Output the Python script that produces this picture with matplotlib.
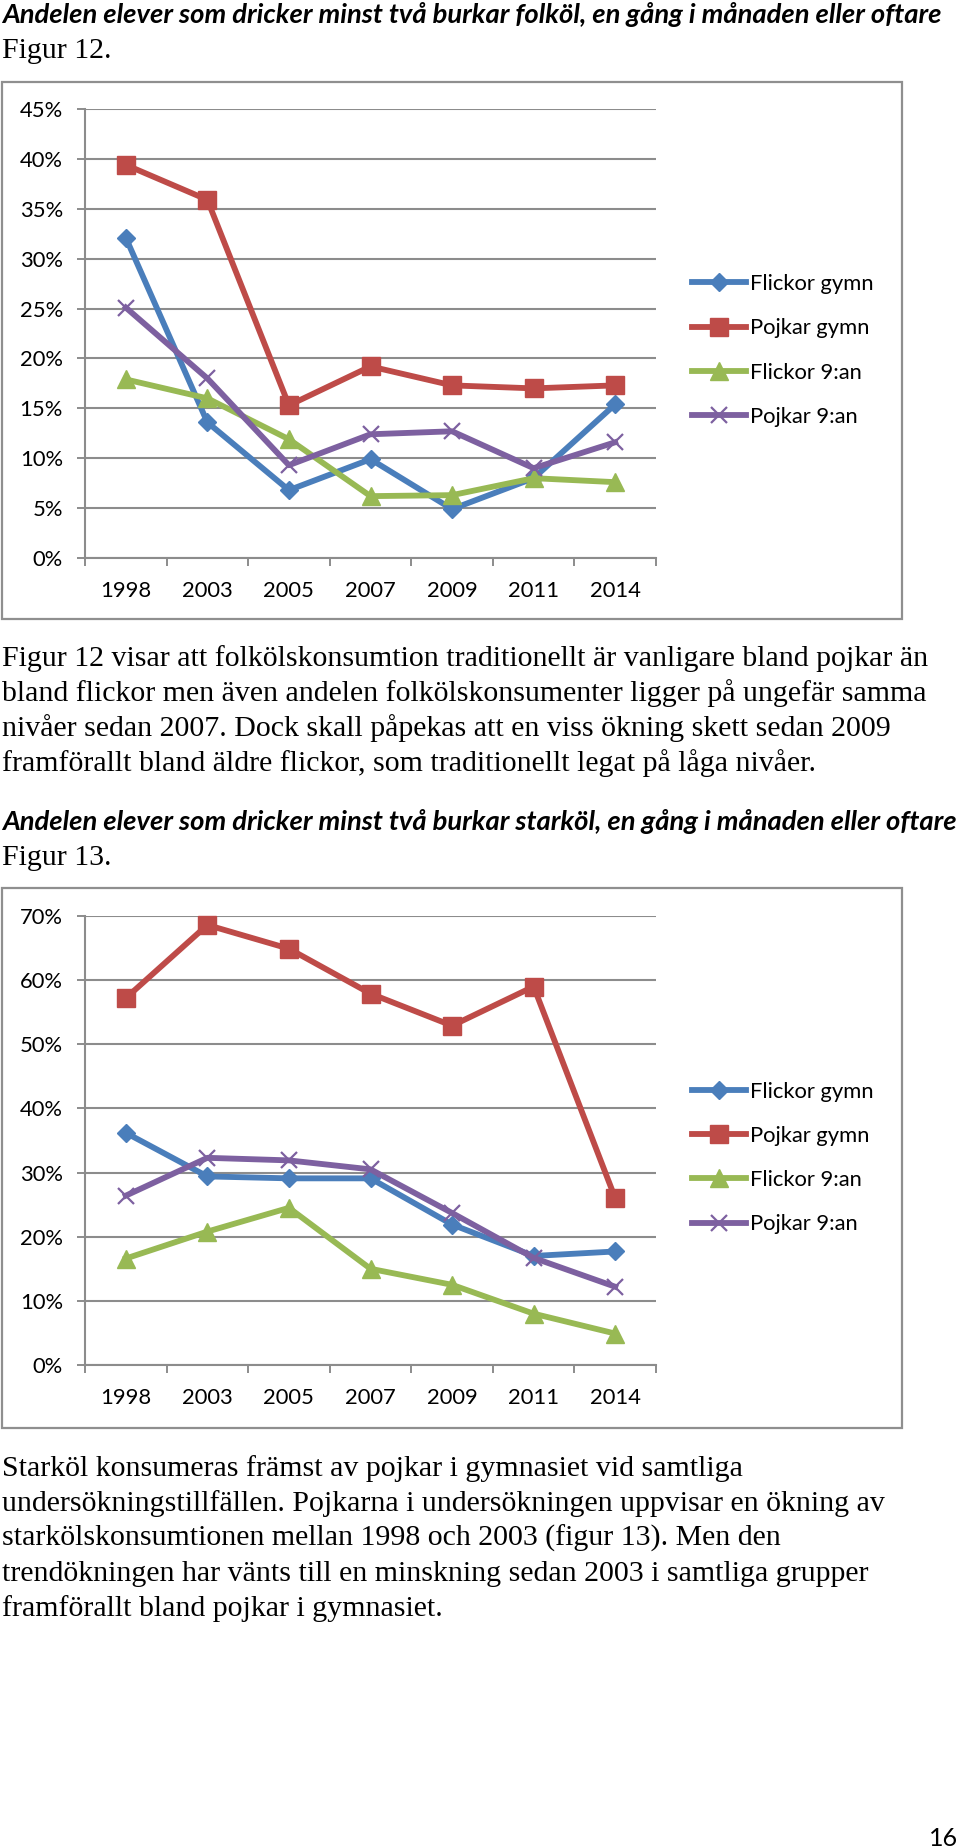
import matplotlib
matplotlib.use('Agg')
import matplotlib.pyplot as plt
from matplotlib.patches import Rectangle
import numpy as np

W, H = 960, 1848
DPI = 100

years = ['1998', '2003', '2005', '2007', '2009', '2011', '2014']
series_names = ['Flickor gymn', 'Pojkar gymn', 'Flickor 9:an', 'Pojkar 9:an']

# Figur 12 - folköl (%)
folk_flickor_gymn = [32.1, 13.6, 6.8, 9.9, 4.9, 8.0, 15.4]
folk_pojkar_gymn = [39.4, 35.9, 15.3, 19.2, 17.3, 17.0, 17.3]
folk_flickor_9 = [17.9, 16.0, 11.9, 6.2, 6.3, 8.0, 7.6]
folk_pojkar_9 = [25.1, 18.0, 9.3, 12.4, 12.7, 9.0, 11.6]

# Figur 13 - starköl (%)
stark_flickor_gymn = [36.2, 29.4, 29.1, 29.1, 21.9, 17.0, 17.7]
stark_pojkar_gymn = [57.2, 68.6, 64.9, 57.9, 52.9, 59.0, 26.0]
stark_flickor_9 = [16.6, 20.8, 24.5, 15.0, 12.5, 8.0, 4.9]
stark_pojkar_9 = [26.4, 32.3, 31.9, 30.5, 23.7, 16.7, 12.2]

colors = ['#4A7EBB', '#BE4B48', '#98B954', '#7D60A0']
markers = ['D', 's', '^', 'x']
msizes = [9.5, 12.5, 13, 12]

heading1 = 'Andelen elever som dricker minst två burkar folköl, en gång i månaden eller oftare'
heading2 = 'Andelen elever som dricker minst två burkar starköl, en gång i månaden eller oftare'
para1 = ['Figur 12 visar att folkölskonsumtion traditionellt är vanligare bland pojkar än',
         'bland flickor men även andelen folkölskonsumenter ligger på ungefär samma',
         'nivåer sedan 2007. Dock skall påpekas att en viss ökning skett sedan 2009',
         'framförallt bland äldre flickor, som traditionellt legat på låga nivåer.']
para2 = ['Starköl konsumeras främst av pojkar i gymnasiet vid samtliga',
         'undersökningstillfällen. Pojkarna i undersökningen uppvisar en ökning av',
         'starkölskonsumtionen mellan 1998 och 2003 (figur 13). Men den',
         'trendökningen har vänts till en minskning sedan 2003 i samtliga grupper',
         'framförallt bland pojkar i gymnasiet.']

fig = plt.figure(figsize=(W / DPI, H / DPI), dpi=DPI)
renderer = fig.canvas.get_renderer()

def fx(x):
    return x / W

def fy(y):
    return 1 - y / H

def px2pt(p):
    return p * 72.0 / DPI

SERIF = ['Liberation Serif', 'DejaVu Serif']
SANS = ['Lato', 'DejaVu Sans']

def put_text(x, y, s, size, family, weight='normal', style='normal', ha='left'):
    return fig.text(fx(x), fy(y), s, fontsize=size, family=family, weight=weight,
                    style=style, va='baseline', ha=ha, color='black')

def fit_size(s, width, family, weight='normal', style='normal'):
    t = fig.text(0, 0, s, fontsize=20, family=family, weight=weight, style=style)
    w = t.get_window_extent(renderer).width
    t.remove()
    return 20 * width / w

# headings
hsize = fit_size(heading1, 938, SANS, 'bold', 'italic')
put_text(2, 23, heading1, hsize, SANS, 'bold', 'italic')
put_text(2, 830, heading2, hsize, SANS, 'bold', 'italic')

bsize = fit_size(para1[0], 928, SERIF)
put_text(2, 58, 'Figur 12.', bsize, SERIF)
put_text(2, 865, 'Figur 13.', bsize, SERIF)
for i, line in enumerate(para1):
    put_text(2, 666 + 35 * i, line, bsize, SERIF)
for i, line in enumerate(para2):
    put_text(2, 1476 + 35 * i, line, bsize, SERIF)

put_text(958, 1846, '16', px2pt(25), SANS, ha='right')

GRID = '#8C8C8C'
tick_fs = px2pt(22)

def make_chart(box, ax_px, ymax, data, legend_cy):
    bx0, by0, bx1, by1 = box
    fig.patches.append(Rectangle((fx(bx0), fy(by1)), (bx1 - bx0) / W, (by1 - by0) / H,
                                 transform=fig.transFigure, fill=False,
                                 edgecolor='#8F8F8F', linewidth=1.6, zorder=0))
    l, r, t, b = ax_px
    ax = fig.add_axes([fx(l), fy(b), (r - l) / W, (b - t) / H])
    ax.set_facecolor('none')
    x = np.arange(len(years))
    handles = []
    for vals, name, c, m, ms in zip(data, series_names, colors, markers, msizes):
        mew = 1.6 if m == 'x' else 1.0
        h, = ax.plot(x, vals, color=c, linewidth=4.2, marker=m, markersize=ms,
                     markeredgewidth=mew, markeredgecolor=c, markerfacecolor=c,
                     label=name, clip_on=False, zorder=3, solid_joinstyle='round')
        handles.append(h)
    ax.set_xlim(-0.5, len(years) - 0.5)
    ax.set_ylim(0, ymax)
    yt = np.arange(0, ymax + 0.1, 5 if ymax == 45 else 10)
    ax.set_yticks(yt)
    ax.set_yticklabels([f'{int(v)}%' for v in yt], family=SANS, fontsize=tick_fs)
    ax.set_xticks(np.arange(-0.5, len(years), 1))
    ax.set_xticklabels([])
    ax.set_xticks(x, minor=True)
    ax.set_xticklabels(years, minor=True, family=SANS, fontsize=tick_fs)
    ax.tick_params(axis='x', which='major', length=px2pt(8), width=1.4, color=GRID,
                   direction='out')
    ax.tick_params(axis='x', which='minor', length=0, pad=px2pt(23))
    ax.tick_params(axis='y', length=px2pt(8), width=1.4, color=GRID, pad=px2pt(14))
    ax.yaxis.grid(True, color=GRID, linewidth=1.5)
    ax.set_axisbelow(True)
    for s in ['top', 'right']:
        ax.spines[s].set_visible(False)
    for s in ['left', 'bottom']:
        ax.spines[s].set_color(GRID)
        ax.spines[s].set_linewidth(1.5)
    ax.legend(handles=handles, loc='center left',
              bbox_to_anchor=(fx(692), fy(legend_cy)), bbox_transform=fig.transFigure,
              frameon=False, borderpad=0, borderaxespad=0, numpoints=1,
              handlelength=2.45, handletextpad=0.2, labelspacing=1.1,
              prop={'family': SANS, 'size': tick_fs})
    return ax

make_chart((2, 82, 902, 619), (85, 656, 109, 558), 45,
           [folk_flickor_gymn, folk_pojkar_gymn, folk_flickor_9, folk_pojkar_9], 350.5)
make_chart((2, 888, 902, 1428), (85, 656, 916, 1365), 70,
           [stark_flickor_gymn, stark_pojkar_gymn, stark_flickor_9, stark_pojkar_9], 1158)

fig.savefig('out.png', dpi=DPI)
